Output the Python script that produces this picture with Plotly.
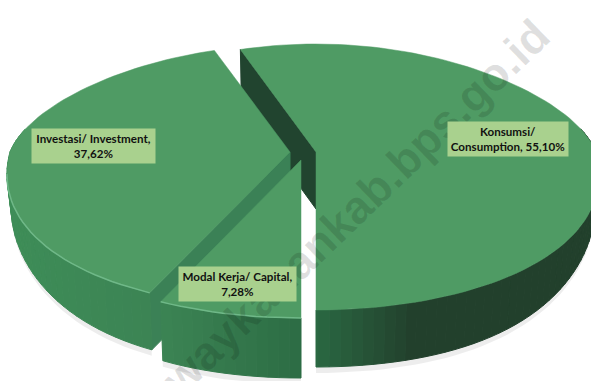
import numpy as np
import plotly.graph_objects as go

# --- data ---
categories = ["Konsumsi/<br>Consumption", "Modal Kerja/ Capital,<br>", "Investasi/ Investment,<br>"]
shares = [55.10, 7.28, 37.62]
separators = [", ", "", ""]
watermark = "waykanankab.bps.go.id"

# --- drawing geometry ---
W, H = 591, 381
TOP = "#4f9b64"
WALLS = ["#21442f", "#3c8055", "#3b8156"]
APEX = [(316, 152), (301, 160), (290, 152)]
RADII = [(280, 108, 158), (280, 106, 158), (280, 107, 157)]
DEPTH = [57, 60, 58]
BOX = [(508, 139, 120, 34), (237.5, 284, 117, 34), (93.5, 146, 123, 34)]
PERSP = 0.15


def pt(i, deg, drop=0.0):
    t = np.radians(deg)
    cx, cy = APEX[i]
    a, bu, bd = RADII[i]
    c, s = np.cos(t), np.sin(t)
    inward = 0.985 if drop else 1.0
    x = cx + a * inward * s * (1 - PERSP * c)
    y = cy - (bu if c > 0 else bd) * c + drop * (1 - 0.45 * s ** 4)
    return float(x), float(y)


def arc(i, a0, a1, drop=0.0, step=2.0):
    n = max(2, int(abs(a1 - a0) / step) + 1)
    return [pt(i, d, drop) for d in np.linspace(a0, a1, n)]


def mix(c1, c2, f):
    f = min(1, max(0, f))
    r = [round(c1[k] + (c2[k] - c1[k]) * f) for k in range(3)]
    return f"rgb({r[0]},{r[1]},{r[2]})"


def side_color(deg):
    s = np.sin(np.radians(deg))
    if s > 0:  # right side is in deep shade
        return mix((42, 104, 66), (34, 64, 44), s / 0.3)
    if s > -0.44:
        return mix((44, 108, 68), (60, 132, 84), -s / 0.44)
    return mix((60, 132, 84), (62, 142, 88), (-s - 0.44) / 0.56)


def poly(pts, color, lw=1.0):
    xs, ys = zip(*pts)
    return go.Scatter(x=list(xs) + [xs[0]], y=list(ys) + [ys[0]], mode="lines", fill="toself",
                      fillcolor=color, line=dict(color=color, width=lw),
                      hoverinfo="skip", showlegend=False)


# slice angles (clockwise from the top), the first slice ends at the front
start = 180 - shares[0] * 3.6
spans = []
a = start
for v in shares:
    spans.append((a, a + v * 3.6))
    a += v * 3.6

fig = go.Figure()
# soft shadow
for i, (a0, a1) in enumerate(spans):
    lo, hi = max(a0, 95), min(a1, 265)
    if lo < hi:
        fig.add_trace(poly(arc(i, lo, hi, DEPTH[i] + 6) + arc(i, hi, lo, 0), "rgba(0,0,0,0.07)", 0))

for i in [0, 2, 1]:
    a0, a1 = spans[i]
    # straight wall
    if i in (0, 2):
        fig.add_trace(poly([pt(i, a0), APEX[i], (APEX[i][0], APEX[i][1] + DEPTH[i]), pt(i, a0, DEPTH[i])], WALLS[i]))
    # curved outer side in strips
    e = np.arange(a0, a1 + 0.01, 2.0).tolist()
    if e[-1] < a1:
        e.append(a1)
    for d0, d1 in zip(e[:-1], e[1:]):
        if np.cos(np.radians((d0 + d1) / 2)) < 0.2:
            fig.add_trace(poly(arc(i, d0, d1, 0, 1) + arc(i, d1, d0, DEPTH[i], 1),
                               side_color((d0 + d1) / 2)))
    # top face
    fig.add_trace(poly([APEX[i]] + arc(i, a0, a1), TOP, 0.5))
    # rim highlight along the front edge of the lit slices
    lo, hi = max(a0, 100), min(a1, 262)
    if lo < hi and i != 0:
        rim = arc(i, lo, hi, 0)
        fig.add_trace(go.Scatter(x=[p[0] for p in rim], y=[p[1] for p in rim], mode="lines",
                                 line=dict(color="#6fb888", width=1.5), hoverinfo="skip", showlegend=False))

annotations = [dict(text=f"<b>{watermark}</b>", x=355, y=208, xref="x", yref="y", showarrow=False,
                    textangle=-44, font=dict(family="Liberation Sans", size=46, color="rgba(0,0,0,0.12)"))]
for name, v, sep, box in zip(categories, shares, separators, BOX):
    label = f"{name}{sep}{v:.2f}%".replace(".", ",")
    annotations.append(dict(text=f"<b>{label}</b>", x=box[0], y=box[1], xref="x", yref="y", showarrow=False,
                            width=box[2], height=box[3], bgcolor="#a9d18e", borderpad=0, align="center",
                            valign="middle", font=dict(family="Lato", size=11.6, color="#111111")))

fig.update_layout(
    width=W, height=H, margin=dict(l=0, r=0, t=0, b=0), paper_bgcolor="white", plot_bgcolor="white",
    showlegend=False, annotations=annotations,
    xaxis=dict(range=[0, W], visible=False, fixedrange=True),
    yaxis=dict(range=[H, 0], visible=False, fixedrange=True),
)
fig.write_html("out.html", config=dict(displayModeBar=False),
               post_script="document.body.style.margin='0';document.body.style.overflow='hidden';")
